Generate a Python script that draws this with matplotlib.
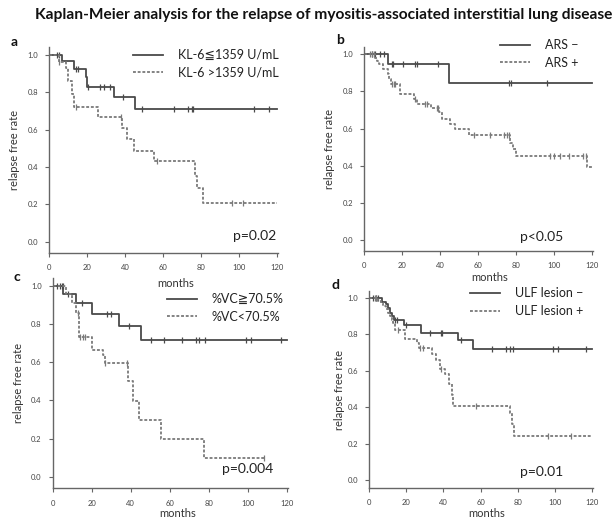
import numpy as np
import matplotlib
matplotlib.use("Agg")
import matplotlib.pyplot as plt

plt.rcParams['font.family'] = ['Lato', 'DejaVu Sans']

# ---- data (step times, survival, censor times) ----
a_hi_t = [0, 7, 13, 19.5, 20, 34, 45.5, 120]
a_hi_s = [1.0, 0.965, 0.925, 0.88, 0.83, 0.773, 0.709, 0.709]
a_hi_c = [4, 5, 14, 15.5, 20.5, 27, 29, 32, 39, 49, 66, 73, 75, 76, 108, 116]
a_lo_t = [0, 5, 9, 10, 12, 13, 26, 38.5, 41, 44.5, 55, 77, 78, 81, 120]
a_lo_s = [1.0, 0.96, 0.93, 0.86, 0.79, 0.72, 0.667, 0.607, 0.548, 0.486, 0.43, 0.35, 0.286, 0.209, 0.209]
a_lo_c = [5.5, 14, 38, 57, 96.5, 102]

b_neg_t = [0, 12.5, 44.5, 120]
b_neg_s = [1.0, 0.946, 0.844, 0.844]
b_neg_c = [4, 5.5, 8.5, 10.7, 14.5, 15.4, 20.7, 27, 28, 39, 76.5, 77.5, 96]
b_pos_t = [0, 5.8, 7, 8, 10, 12.5, 13, 14, 19, 26, 28, 35, 39.5, 41, 45, 48, 55, 77, 78.5, 80, 117.5, 120]
b_pos_s = [1.0, 0.98, 0.965, 0.945, 0.92, 0.892, 0.865, 0.84, 0.785, 0.76, 0.734, 0.709, 0.688, 0.652,
           0.625, 0.596, 0.567, 0.52, 0.49, 0.454, 0.395, 0.395]
b_pos_c = [3, 4, 5, 14.5, 15.5, 16.5, 27, 32, 33, 38.5, 39, 58, 66.5, 73.5, 75, 76, 98, 100, 103, 108, 115, 116.5]

c_hi_t = [0, 5.5, 12, 20, 34, 45, 120]
c_hi_s = [1.0, 0.955, 0.91, 0.854, 0.79, 0.715, 0.715]
c_hi_c = [2, 3.7, 4.6, 5.4, 8, 14.8, 28, 30, 39, 50.4, 57, 66.2, 73.3, 75, 78, 99, 101.6, 117]
c_lo_t = [0, 7, 10, 12, 13.5, 20, 25.8, 26.8, 38.8, 41, 44, 55.5, 77.5, 108.5]
c_lo_s = [1.0, 0.955, 0.91, 0.855, 0.73, 0.663, 0.635, 0.598, 0.5, 0.398, 0.299, 0.198, 0.099, 0.099]
c_lo_c = [13, 14, 15.3, 16.5, 27, 38.3, 108.5]

d_neg_t = [0, 7, 9, 10, 11.5, 12.5, 13.5, 19, 28, 48, 56, 120]
d_neg_s = [1.0, 0.98, 0.965, 0.945, 0.92, 0.9, 0.881, 0.85, 0.81, 0.768, 0.722, 0.722]
d_neg_c = [2.3, 4, 5, 14, 15, 20, 32.8, 38.5, 39, 49.5, 66.3, 73.4, 75.8, 77.2, 98.7, 101.7, 116.6]
d_pos_t = [0, 5, 6.3, 7.7, 9, 10, 11.3, 12.2, 13, 14, 19.5, 26, 27, 34, 36, 38, 41, 43, 44.5, 45,
           76, 77, 78, 120]
d_pos_s = [1.0, 0.985, 0.97, 0.955, 0.94, 0.92, 0.9, 0.88, 0.86, 0.823, 0.777, 0.753, 0.728, 0.691,
           0.662, 0.609, 0.58, 0.53, 0.47, 0.406, 0.37, 0.31, 0.241, 0.241]
d_pos_c = [3, 4, 15.8, 27.4, 28.8, 38.7, 57.5, 96, 108.5]

title = "Kaplan-Meier analysis for the relapse of myositis-associated interstitial lung disease"
solid_col = '#4a4a4a'
dash_col = '#7a7a7a'
txt_col = '#333333'


def km(ax, t, s, c, color, ls, label):
    ax.step(t, s, where='post', color=color, lw=1.3, linestyle=ls, label=label)
    idx = np.searchsorted(t, c, side='right') - 1
    ax.plot(c, np.array(s)[idx], linestyle='none', marker='|', ms=5, mew=0.9, color=color)


def style(ax, ylow):
    ax.patch.set_alpha(0)
    ax.set_xlim(0, 120.5)
    ax.set_ylim(ylow, 1.04)
    ax.set_xticks(range(0, 121, 20))
    ax.set_yticks(np.arange(0, 1.01, 0.2))
    ax.set_yticklabels([f"{v:.1f}" for v in np.arange(0, 1.01, 0.2)])
    for sp in ['top', 'right']:
        ax.spines[sp].set_visible(False)
    for sp in ['left', 'bottom']:
        ax.spines[sp].set_color('#666666')
        ax.spines[sp].set_linewidth(1.0)
    ax.tick_params(labelsize=5.5, colors='#666666', labelcolor='#444444', length=3, width=0.8, pad=5)
    ax.set_ylabel("relapse free rate", fontsize=8, color=txt_col)
    ax.set_xlabel("months", fontsize=8, color=txt_col)


fig = plt.figure(figsize=(6.14, 5.19), dpi=100)
fig.text(0.527, 0.971, title, ha='center', va='center', fontsize=11.2, fontweight='bold', color='#111111')

dotted = (0, (1.6, 1.0))
panels = [
    ([0.0798, 0.5127, 0.373, 0.3958], 'a', -0.06,
     (a_hi_t, a_hi_s, a_hi_c, "KL-6\u22661359 U/mL"), (a_lo_t, a_lo_s, a_lo_c, "KL-6 >1359 U/mL"),
     "p=0.02", (0.90, 0.082), (0.367, 0.993), (-0.127, 0.5), (0.555, -0.12), (14, 42)),
    ([0.593, 0.516, 0.373, 0.394], 'b', -0.06,
     (b_neg_t, b_neg_s, b_neg_c, "ARS \u2212"), (b_pos_t, b_pos_s, b_pos_c, "ARS +"),
     "p<0.05", (0.777, 0.069), (0.594, 1.037), (-0.127, 0.5), (0.55, -0.103), (340, 40)),
    ([0.0858, 0.0588, 0.383, 0.4056], 'c', -0.06,
     (c_hi_t, c_hi_s, c_hi_c, "%VC\u226770.5%"), (c_lo_t, c_lo_s, c_lo_c, "%VC<70.5%"),
     "p=0.004", (0.83, 0.092), (0.486, 0.929), (-0.122, 0.5), (0.532, -0.093), (17, 277)),
    ([0.601, 0.059, 0.365, 0.381], 'd', -0.045,
     (d_neg_t, d_neg_s, d_neg_c, "ULF lesion \u2212"), (d_pos_t, d_pos_s, d_pos_c, "ULF lesion +"),
     "p=0.01", (0.772, 0.082), (0.451, 1.017), (-0.107, 0.5), (0.527, -0.101), (336, 285)),
]

for rect, letter, ylow, s1, s2, ptxt, ppos, lpos, ylpos, xlpos, letpos in panels:
    ax = fig.add_axes(rect)
    km(ax, s1[0], s1[1], s1[2], solid_col, '-', s1[3])
    km(ax, s2[0], s2[1], s2[2], dash_col, dotted, s2[3])
    style(ax, ylow)
    ax.yaxis.set_label_coords(*ylpos)
    ax.xaxis.set_label_coords(*xlpos)
    ax.text(ppos[0], ppos[1], ptxt, transform=ax.transAxes, ha='center', va='center',
            fontsize=10, color='#222222')
    ax.legend(loc='upper left', bbox_to_anchor=lpos, frameon=False, fontsize=9,
              handlelength=2.4, handletextpad=1.2, labelspacing=0.45,
              borderpad=0, borderaxespad=0, labelcolor='#222222')
    fig.text(letpos[0] / 614, 1 - letpos[1] / 519, letter, ha='center', va='center',
             fontsize=10, fontweight='bold', color='#111111')

fig.savefig("out.png", dpi=100)
